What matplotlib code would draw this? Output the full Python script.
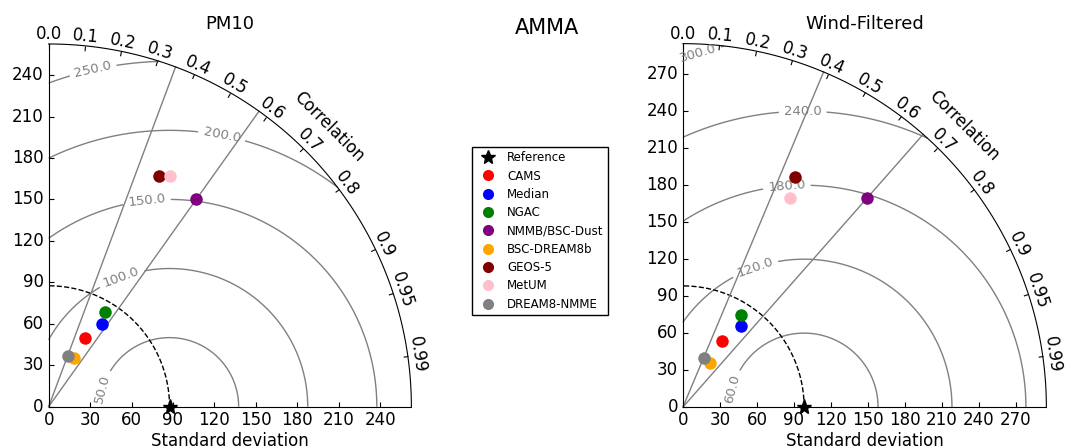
import numpy as np
import matplotlib
matplotlib.use('Agg')
import matplotlib.pyplot as plt
from matplotlib.lines import Line2D
from matplotlib.projections import PolarAxes
import mpl_toolkits.axisartist.floating_axes as FA
import mpl_toolkits.axisartist.grid_finder as GF

#------------------data

models = ['CAMS', 'Median', 'NGAC', 'NMMB/BSC-Dust', 'BSC-DREAM8b', 'GEOS-5', 'MetUM', 'DREAM8-NMME']
colors = ['red', 'blue', 'green', 'purple', 'orange', 'maroon', 'pink', 'gray']

pm10_ref = 87.5
pm10_std = [55.9, 71.1, 79.6, 184.4, 39.8, 185.0, 188.7, 39.2]
pm10_corr = [0.466, 0.546, 0.511, 0.580, 0.463, 0.433, 0.464, 0.350]
pm10_levels = [50, 100, 150, 200, 250]
pm10_ticks = [0, 30, 60, 90, 120, 150, 180, 210, 240]

wind_ref = 98.3
wind_std = [61.9, 81.0, 88.0, 226.3, 42.0, 207.8, 190.4, 43.2]
wind_corr = [0.507, 0.586, 0.531, 0.661, 0.531, 0.436, 0.457, 0.387]
wind_levels = [60, 120, 180, 240, 300]
wind_ticks = [0, 30, 60, 90, 120, 150, 180, 210, 240, 270]

corr_ticks = [0.0, 0.1, 0.2, 0.3, 0.4, 0.5, 0.6, 0.7, 0.8, 0.9, 0.95, 0.99]

# where the rms labels sit (theta, r)
pm10_lab = [(0.346, 39.2), (1.077, 109.3), (1.131, 166.6), (1.005, 234.2), (1.445, 249.3)]
wind_lab = [(0.355, 42.9), (1.105, 128.7), (1.136, 199.6), (1.186, 259.0), (1.533, 291.2)]


#------------------taylor panel

def taylor(fig, rect, refstd, stds, corrs, levels, sticks, labpos, title):
    smax = 3 * refstd
    tr = PolarAxes.PolarTransform(apply_theta_transforms=False)
    tlocs = np.arccos(corr_ticks)
    gl1 = GF.FixedLocator(tlocs)
    tf1 = GF.DictFormatter(dict(zip(tlocs, [str(c) for c in corr_ticks])))
    gl2 = GF.FixedLocator(sticks)
    tf2 = GF.DictFormatter(dict(zip(sticks, [str(s) for s in sticks])))
    gh = FA.GridHelperCurveLinear(tr, extremes=(0, np.pi / 2, 0, smax),
                                  grid_locator1=gl1, tick_formatter1=tf1,
                                  grid_locator2=gl2, tick_formatter2=tf2)
    ax = FA.FloatingAxes(fig, rect, grid_helper=gh)
    fig.add_axes(ax)

    ax.axis["top"].set_axis_direction("bottom")
    ax.axis["top"].toggle(ticklabels=True, label=True)
    ax.axis["top"].major_ticklabels.set_axis_direction("top")
    ax.axis["top"].label.set_axis_direction("top")
    ax.axis["top"].label.set_text("Correlation")
    ax.axis["top"].label.set_fontsize(12)
    ax.axis["top"].major_ticklabels.set_fontsize(12)

    ax.axis["left"].set_axis_direction("bottom")
    ax.axis["left"].label.set_text("Standard deviation")
    ax.axis["left"].label.set_fontsize(12)
    ax.axis["left"].major_ticklabels.set_fontsize(12)

    ax.axis["right"].set_axis_direction("top")
    ax.axis["right"].toggle(ticklabels=True)
    ax.axis["right"].major_ticklabels.set_axis_direction("left")
    ax.axis["right"].major_ticklabels.set_fontsize(12)
    ax.axis["bottom"].set_visible(False)

    aux = ax.get_aux_axes(tr)

    # rms contours
    rs, ts = np.meshgrid(np.linspace(0, smax, 300), np.linspace(0, np.pi / 2, 300))
    rms = np.sqrt(refstd ** 2 + rs ** 2 - 2 * refstd * rs * np.cos(ts))
    cs = aux.contour(ts, rs, rms, levels, colors='0.5', linewidths=1)
    aux.clabel(cs, inline=1, fontsize=9.5, fmt='%.1f', manual=labpos)

    # reference
    t = np.linspace(0, np.pi / 2, 100)
    aux.plot(t, np.zeros_like(t) + refstd, 'k--', lw=1)
    aux.plot([0], [refstd], 'k*', ms=11, clip_on=False, zorder=5)

    # min / max correlation lines
    for c in [min(corrs), max(corrs)]:
        aux.plot([np.arccos(c), np.arccos(c)], [0, smax], color='0.5', lw=1)

    for s, c, col in zip(stds, corrs, colors):
        aux.plot(np.arccos(c), s, 'o', color=col, ms=9, mec='none', zorder=6)

    fig.text(rect[0] + rect[2] / 2, 0.935, title, ha='center', fontsize=13)
    return ax


fig = plt.figure(figsize=(10.66, 4.48), dpi=100)

taylor(fig, [45 / 1066, 37.3 / 448, 370 / 1066, 370.7 / 448],
       pm10_ref, pm10_std, pm10_corr, pm10_levels, pm10_ticks, pm10_lab, 'PM10')
taylor(fig, [679.3 / 1066, 37.3 / 448, 370.7 / 1066, 370.7 / 448],
       wind_ref, wind_std, wind_corr, wind_levels, wind_ticks, wind_lab, 'Wind-Filtered')

fig.text(0.513, 0.925, 'AMMA', ha='center', fontsize=15)

handles = [Line2D([], [], ls='none', marker='*', color='k', ms=10)]
handles += [Line2D([], [], ls='none', marker='o', color=c, mec='none', ms=8) for c in colors]
fig.legend(handles, ['Reference'] + models, loc='center',
           bbox_to_anchor=(540 / 1066, 1 - 231 / 448), fontsize=8.5,
           numpoints=1, fancybox=False, edgecolor='k', framealpha=1,
           handletextpad=0.6, labelspacing=0.45)

fig.savefig('out.png', dpi=100)
